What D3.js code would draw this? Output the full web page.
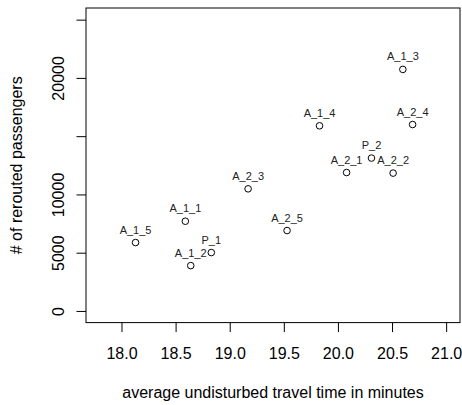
<!DOCTYPE html>
<html>
<head>
<meta charset="utf-8">
<script src="https://cdn.jsdelivr.net/npm/d3@7"></script>
<style>
  body { margin: 0; background: #fff; }
  text { font-family: "Liberation Sans", Arial, Helvetica, sans-serif; }
</style>
</head>
<body>
<svg id="main-chart"></svg>
<script>
const runLabels = ['A_1_1', 'A_1_2', 'A_1_3', 'A_1_4', 'A_1_5', 'A_2_1', 'A_2_2', 'A_2_3', 'A_2_4', 'A_2_5', 'P_1', 'P_2'];
const travelTime = [18.59, 18.64, 20.60, 19.83, 18.13, 20.08, 20.51, 19.17, 20.69, 19.53, 18.83, 20.31];
const rerouted = [7700, 3890, 20730, 15890, 5870, 11880, 11830, 10480, 16000, 6900, 5010, 13120];

const xTicks = [18.0, 18.5, 19.0, 19.5, 20.0, 20.5, 21.0];
const xTickLabels = ['18.0', '18.5', '19.0', '19.5', '20.0', '20.5', '21.0'];
const yTicks = [0, 5000, 10000, 15000, 20000, 25000];
// R drops labels that would overlap, 15000 and 25000 are unlabeled
const yTickLabels = ['0', '5000', '10000', '', '20000', ''];

const width = 462, height = 405;
const box = { left: 86, right: 460, top: 8, bottom: 322.6 };

const svg = d3.select('#main-chart')
    .attr('width', width)
    .attr('height', height);

// xlim c(17.8, 21) and ylim c(0, 25000) with R's 4% padding
const xScale = d3.scaleLinear()
    .domain([17.672, 21.128])
    .range([box.left, box.right]);

const yScale = d3.scaleLinear()
    .domain([-1000, 26000])
    .range([box.bottom, box.top]);

const xAxis = svg.append('g')
    .attr('transform', `translate(0, ${box.bottom})`)
    .call(d3.axisBottom(xScale)
        .tickValues(xTicks)
        .tickSize(9.5)
        .tickPadding(0)
        .tickFormat((d, i) => xTickLabels[i]));
xAxis.select('.domain').remove();
xAxis.selectAll('line').attr('stroke', '#000');
xAxis.selectAll('text')
    .attr('y', 36.4)
    .attr('dy', null)
    .attr('font-size', '16px')
    .attr('font-family', '"Liberation Sans", Arial, sans-serif')
    .attr('fill', '#000');

const yAxis = svg.append('g')
    .attr('transform', `translate(${box.left}, 0)`)
    .call(d3.axisLeft(yScale)
        .tickValues(yTicks)
        .tickSize(9.5)
        .tickFormat((d, i) => yTickLabels[i]));
yAxis.select('.domain').remove();
yAxis.selectAll('line').attr('stroke', '#000');
yAxis.selectAll('text')
    .attr('x', null)
    .attr('dy', null)
    .attr('transform', 'translate(-22.5, 0) rotate(-90)')
    .attr('text-anchor', 'middle')
    .attr('font-size', '16px')
    .attr('font-family', '"Liberation Sans", Arial, sans-serif')
    .attr('fill', '#000');

svg.append('rect')
    .attr('x', box.left)
    .attr('y', box.top)
    .attr('width', box.right - box.left)
    .attr('height', box.bottom - box.top)
    .attr('fill', 'none')
    .attr('stroke', '#000')
    .attr('stroke-width', 1);

svg.append('text')
    .attr('x', (box.left + box.right) / 2)
    .attr('y', 398)
    .attr('text-anchor', 'middle')
    .attr('font-size', '16px')
    .attr('fill', '#000')
    .text('average undisturbed travel time in minutes');

svg.append('text')
    .attr('transform', `translate(21.5, ${(box.top + box.bottom) / 2}) rotate(-90)`)
    .attr('text-anchor', 'middle')
    .attr('font-size', '16px')
    .attr('fill', '#000')
    .text('# of rerouted passengers');

const points = runLabels.map((label, i) => ({ label, x: travelTime[i], y: rerouted[i] }));

svg.selectAll('.point')
    .data(points)
    .enter()
    .append('circle')
    .attr('class', 'point')
    .attr('cx', d => xScale(d.x))
    .attr('cy', d => yScale(d.y))
    .attr('r', 3.3)
    .attr('fill', 'none')
    .attr('stroke', '#000')
    .attr('stroke-width', 1);

svg.selectAll('.point-label')
    .data(points)
    .enter()
    .append('text')
    .attr('class', 'point-label')
    .attr('x', d => xScale(d.x))
    .attr('y', d => yScale(d.y) - 9)
    .attr('text-anchor', 'middle')
    .attr('font-size', '11px')
    .attr('fill', '#222')
    .text(d => d.label);
</script>
</body>
</html>
